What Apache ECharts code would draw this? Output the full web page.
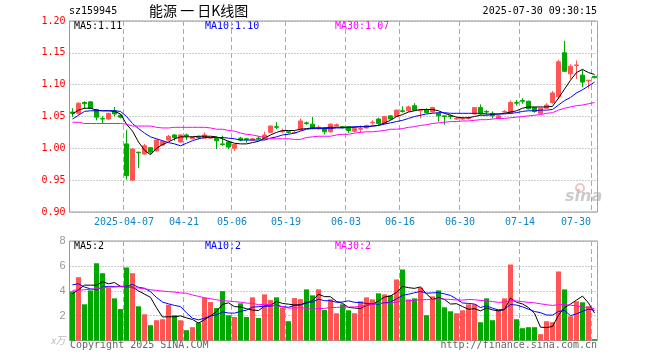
<!DOCTYPE html>
<html>
<head>
<meta charset="utf-8">
<script src="https://cdn.jsdelivr.net/npm/echarts@6/dist/echarts.min.js"></script>
<style>html,body{margin:0;padding:0;background:#fff}#c{width:660px;height:360px}</style>
</head>
<body>
<div id="c"></div>
<script>
const dates = ['2025-03-24','2025-03-25','2025-03-26','2025-03-27','2025-03-28','2025-03-31',
'2025-04-01','2025-04-02','2025-04-03','2025-04-07','2025-04-08','2025-04-09','2025-04-10','2025-04-11','2025-04-14','2025-04-15','2025-04-16','2025-04-17','2025-04-18','2025-04-21','2025-04-22','2025-04-23','2025-04-24','2025-04-25','2025-04-28','2025-04-29','2025-04-30',
'2025-05-06','2025-05-07','2025-05-08','2025-05-09','2025-05-12','2025-05-13','2025-05-14','2025-05-15','2025-05-16','2025-05-19','2025-05-20','2025-05-21','2025-05-22','2025-05-23','2025-05-26','2025-05-27','2025-05-28','2025-05-29','2025-05-30',
'2025-06-03','2025-06-04','2025-06-05','2025-06-06','2025-06-09','2025-06-10','2025-06-11','2025-06-12','2025-06-13','2025-06-16','2025-06-17','2025-06-18','2025-06-19','2025-06-20','2025-06-23','2025-06-24','2025-06-25','2025-06-26','2025-06-27','2025-06-30',
'2025-07-01','2025-07-02','2025-07-03','2025-07-04','2025-07-07','2025-07-08','2025-07-09','2025-07-10','2025-07-11','2025-07-14','2025-07-15','2025-07-16','2025-07-17','2025-07-18','2025-07-21','2025-07-22','2025-07-23','2025-07-24','2025-07-25','2025-07-28','2025-07-29','2025-07-30'];

const opens = [1.057,1.055,1.072,1.073,1.061,1.047,1.046,1.059,1.052,1.007,
0.950,0.994,0.991,1.001,0.996,1.005,1.013,1.021,1.010,1.021,
1.015,1.018,1.016,1.016,1.016,1.007,1.010,1.000,1.016,1.015,
1.013,1.016,1.015,1.025,1.034,1.026,1.026,1.024,1.029,1.040,
1.038,1.032,1.032,1.026,1.035,1.034,1.034,1.027,1.030,1.032,
1.040,1.046,1.039,1.051,1.050,1.059,1.059,1.067,1.059,1.061,
1.057,1.055,1.051,1.051,1.046,1.046,1.047,1.054,1.064,1.058,
1.055,1.047,1.057,1.055,1.072,1.075,1.074,1.064,1.055,1.063,
1.072,1.081,1.150,1.117,1.130,1.115,1.106,1.113];
const closes = [1.055,1.071,1.070,1.063,1.049,1.046,1.055,1.054,1.049,0.957,
0.999,0.993,1.004,0.994,1.013,1.011,1.019,1.017,1.021,1.019,
1.018,1.017,1.021,1.017,1.012,1.006,1.002,1.006,1.013,1.014,
1.015,1.015,1.021,1.035,1.033,1.027,1.025,1.025,1.043,1.039,
1.031,1.033,1.026,1.038,1.037,1.033,1.028,1.031,1.031,1.036,
1.041,1.039,1.050,1.046,1.060,1.058,1.065,1.060,1.060,1.056,
1.064,1.051,1.050,1.050,1.047,1.047,1.048,1.064,1.054,1.057,
1.051,1.051,1.058,1.072,1.071,1.074,1.062,1.058,1.063,1.068,
1.087,1.136,1.121,1.129,1.131,1.104,1.107,1.111];
const lows = [1.049,1.053,1.062,1.062,1.044,1.039,1.045,1.050,1.047,0.951,
0.949,0.969,0.990,0.991,0.995,1.004,1.012,1.012,1.009,1.013,
1.014,1.014,1.015,1.015,0.999,1.004,0.999,0.996,1.011,1.009,
1.012,1.013,1.014,1.024,1.030,1.024,1.023,1.023,1.028,1.037,
1.030,1.029,1.022,1.025,1.034,1.031,1.024,1.025,1.025,1.031,
1.037,1.036,1.038,1.045,1.049,1.056,1.057,1.059,1.047,1.055,
1.056,1.042,1.037,1.046,1.045,1.045,1.045,1.053,1.053,1.053,
1.047,1.046,1.056,1.054,1.067,1.070,1.061,1.056,1.054,1.062,
1.070,1.077,1.120,1.109,1.109,1.096,1.094,1.110];
const highs = [1.063,1.072,1.074,1.074,1.062,1.051,1.056,1.065,1.053,1.029,
1.000,0.994,1.007,1.001,1.014,1.012,1.021,1.022,1.022,1.023,
1.019,1.020,1.025,1.018,1.018,1.020,1.012,1.007,1.018,1.016,
1.016,1.019,1.026,1.036,1.041,1.031,1.027,1.027,1.047,1.042,
1.049,1.036,1.033,1.039,1.039,1.035,1.035,1.033,1.036,1.037,
1.044,1.048,1.051,1.052,1.061,1.066,1.067,1.071,1.062,1.063,
1.065,1.056,1.051,1.053,1.049,1.049,1.050,1.065,1.069,1.060,
1.058,1.052,1.060,1.075,1.076,1.079,1.075,1.065,1.064,1.071,
1.090,1.139,1.169,1.132,1.138,1.124,1.107,1.114];

const ma5 = [1.054,1.060,1.063,1.063,1.060,1.059,1.059,1.058,1.054,1.038,
1.027,1.010,0.997,0.990,1.000,1.006,1.010,1.015,1.018,1.018,
1.018,1.019,1.019,1.019,1.018,1.015,1.011,1.008,1.007,1.007,
1.009,1.011,1.016,1.021,1.025,1.028,1.028,1.028,1.030,1.031,
1.032,1.032,1.032,1.033,1.033,1.033,1.033,1.033,1.034,1.034,
1.035,1.036,1.040,1.044,1.050,1.053,1.057,1.059,1.061,1.061,
1.061,1.059,1.055,1.052,1.049,1.048,1.048,1.050,1.052,1.052,
1.053,1.054,1.055,1.057,1.059,1.063,1.065,1.065,1.065,1.065,
1.066,1.079,1.093,1.107,1.119,1.124,1.119,1.116];
const ma10 = [1.046,1.052,1.058,1.059,1.059,1.059,1.059,1.059,1.058,1.050,
1.039,1.031,1.024,1.018,1.015,1.012,1.009,1.007,1.004,1.008,
1.012,1.015,1.017,1.017,1.017,1.017,1.016,1.015,1.013,1.013,
1.013,1.013,1.013,1.016,1.018,1.021,1.022,1.024,1.027,1.030,
1.031,1.031,1.031,1.031,1.032,1.032,1.033,1.034,1.034,1.034,
1.035,1.036,1.038,1.040,1.042,1.044,1.047,1.050,1.052,1.054,
1.055,1.056,1.056,1.055,1.055,1.055,1.055,1.055,1.055,1.054,
1.054,1.054,1.054,1.055,1.056,1.058,1.059,1.059,1.060,1.060,
1.061,1.068,1.075,1.080,1.087,1.092,1.098,1.104];
const ma30 = [1.041,1.041,1.039,1.039,1.039,1.039,1.039,1.039,1.039,1.038,
1.035,1.035,1.035,1.035,1.033,1.032,1.032,1.033,1.033,1.033,
1.033,1.033,1.033,1.032,1.030,1.030,1.028,1.027,1.024,1.022,
1.021,1.019,1.017,1.015,1.015,1.015,1.015,1.014,1.014,1.017,
1.018,1.019,1.019,1.019,1.021,1.022,1.022,1.024,1.025,1.026,
1.026,1.027,1.028,1.030,1.030,1.031,1.033,1.034,1.036,1.037,
1.039,1.040,1.041,1.042,1.042,1.043,1.043,1.044,1.045,1.045,
1.046,1.047,1.047,1.048,1.049,1.050,1.051,1.052,1.053,1.055,
1.056,1.060,1.063,1.065,1.067,1.068,1.070,1.072];

const volumes = [3.95,5.09,2.91,4.03,6.21,5.41,4.24,3.39,2.53,5.87,
5.41,2.75,2.11,1.23,1.63,1.71,2.88,2.03,1.63,0.83,
1.07,1.44,3.44,3.09,2.61,3.97,2.03,1.89,2.99,1.89,
3.47,1.81,3.71,3.25,3.47,2.64,1.55,3.41,3.33,4.11,
3.63,4.11,2.45,3.31,2.19,2.91,2.43,2.19,3.15,3.47,
3.31,3.79,3.71,3.63,4.91,5.71,3.31,3.39,4.24,2.03,
3.55,4.03,2.67,2.35,2.19,2.43,2.91,2.91,1.47,3.39,
1.63,2.51,3.39,6.11,1.71,0.99,1.07,1.07,0.51,1.55,
1.47,5.55,4.11,1.95,3.15,3.07,2.75,0.11];
const volMa5 = [3.76,4.08,4.45,4.45,4.44,4.73,4.56,4.66,4.36,4.29,
4.29,3.99,3.73,3.47,2.63,1.89,1.91,1.90,1.98,1.82,
1.69,1.40,1.68,1.97,2.33,2.91,3.03,2.72,2.70,2.55,
2.45,2.41,2.77,2.83,3.14,2.98,2.92,2.86,2.88,3.01,
3.21,3.72,3.53,3.52,3.14,2.99,2.66,2.61,2.57,2.83,
2.91,3.18,3.49,3.58,3.87,4.35,4.25,4.19,4.31,3.74,
3.30,3.45,3.30,2.93,2.96,2.73,2.51,2.56,2.38,2.62,
2.46,2.38,2.48,3.41,3.07,2.94,2.65,2.19,1.07,1.04,
1.13,2.03,2.64,2.93,3.25,3.57,3.01,2.21];
const volMa10 = [4.48,4.56,4.30,4.15,4.08,4.30,4.35,4.35,4.35,4.36,
4.51,4.28,4.20,3.92,3.46,3.09,2.95,2.82,2.73,2.22,
1.79,1.66,1.79,1.98,2.07,2.30,2.21,2.20,2.34,2.44,
2.68,2.72,2.75,2.76,2.85,2.72,2.67,2.82,2.85,3.08,
3.09,3.32,3.20,3.20,3.07,3.10,3.19,3.07,3.05,2.98,
2.95,2.92,3.05,3.08,3.35,3.63,3.72,3.84,3.95,3.80,
3.83,3.85,3.75,3.62,3.35,3.02,2.98,2.93,2.65,2.79,
2.60,2.45,2.52,2.89,2.85,2.70,2.52,2.33,2.24,2.05,
2.04,2.34,2.41,2.00,2.14,2.35,2.52,2.42];
const volMa30 = [4.03,4.06,4.08,4.12,4.16,4.25,4.29,4.30,4.33,4.30,
4.24,4.22,4.16,4.08,4.03,3.97,3.93,3.89,3.83,3.80,
3.66,3.55,3.44,3.36,3.28,3.20,3.17,3.13,3.08,3.01,
2.99,2.88,2.91,2.88,2.79,2.70,2.61,2.61,2.64,2.58,
2.52,2.57,2.58,2.65,2.66,2.70,2.69,2.70,2.75,2.83,
2.91,2.99,3.00,3.01,3.09,3.15,3.19,3.24,3.28,3.29,
3.29,3.36,3.33,3.30,3.26,3.25,3.30,3.28,3.22,3.19,
3.13,3.07,3.10,3.20,3.18,3.12,3.07,3.03,2.95,2.88,
2.82,2.88,2.89,2.84,2.78,2.69,2.67,2.56];

const labelIdx = [9,19,27,36,46,55,65,75,87];
const tickLabels = ['2025-04-07','04-21','05-06','05-19','06-03','06-16','06-30','07-14','07-30'];
const priceTicks = [0.90,0.95,1.00,1.05,1.10,1.15,1.20];
const volTicks = [0,2,4,6,8];

const UP = '#ff5555', DOWN = '#00a800';
const MONO = '"DejaVu Sans Mono", monospace';

const kData = opens.map((o, i) => [o, closes[i], lows[i], highs[i]]);
const volData = volumes.map((v, i) => ({
  value: v,
  itemStyle: { color: closes[i] >= opens[i] ? UP : DOWN }
}));
const last = (a) => a[a.length - 1];
const trunc2 = (x) => (Math.floor(x * 100 + 1e-6) / 100).toFixed(2);
const trunc0 = (x) => String(Math.floor(x));

const chart = echarts.init(document.getElementById('c'), null, { renderer: 'canvas' });
const gridL = 69.5, gridW = 528;
const isLbl = (i) => labelIdx.indexOf(i) >= 0;
const vSplit = { show: true, interval: (i) => isLbl(i), lineStyle: { color: '#aaa', type: [5, 3], width: 1 } };

const option = {
  animation: false,
  backgroundColor: '#fff',
  grid: [
    { left: gridL, top: 21, width: gridW, height: 191, show: true, borderColor: '#999', borderWidth: 1, backgroundColor: 'transparent' },
    { left: gridL, top: 241, width: gridW, height: 99.5, show: true, borderColor: '#999', borderWidth: 1, backgroundColor: 'transparent' }
  ],
  xAxis: [
    {
      type: 'category', gridIndex: 0, data: dates, boundaryGap: true,
      axisLine: { show: false }, axisTick: { show: false },
      splitLine: vSplit,
      axisLabel: {
        interval: (i) => isLbl(i),
        margin: 5,
        formatter: (v, i) => {
          const j = labelIdx.indexOf(i);
          if (j < 0) return '';
          return (j === labelIdx.length - 1 ? '{e|' : '{n|') + tickLabels[j] + '}';
        },
        rich: {
          n: { color: '#0f86c8', fontSize: 10, fontFamily: MONO, padding: [0, 5, 0, 0] },
          e: { color: '#0f86c8', fontSize: 10, fontFamily: MONO, padding: [0, 37, 0, 0] }
        }
      }
    },
    {
      type: 'category', gridIndex: 1, data: dates, boundaryGap: true,
      axisLine: { show: false }, axisTick: { show: false }, axisLabel: { show: false },
      splitLine: vSplit
    }
  ],
  yAxis: [
    {
      type: 'value', gridIndex: 0, min: priceTicks[0], max: priceTicks[priceTicks.length - 1], interval: 0.05,
      axisLine: { show: false }, axisTick: { show: false },
      axisLabel: { color: '#ff0000', fontSize: 10, fontFamily: MONO, margin: 4, formatter: (v) => v.toFixed(2) },
      splitLine: { show: true, lineStyle: { color: '#999', type: [1, 2], width: 1 } }
    },
    {
      type: 'value', gridIndex: 1, min: volTicks[0], max: volTicks[volTicks.length - 1], interval: 2,
      axisLine: { show: false }, axisTick: { show: false },
      axisLabel: {
        color: '#999', fontSize: 11, fontFamily: '"Liberation Sans", sans-serif', margin: 4,
        formatter: (v) => v === 0 ? '{u|x万}' : String(v),
        rich: { u: { color: '#bbb', fontSize: 10, fontStyle: 'italic', fontFamily: '"Noto Sans CJK SC", sans-serif' } }
      },
      splitLine: { show: true, lineStyle: { color: '#999', type: [1, 2], width: 1 } }
    }
  ],
  series: [
    {
      type: 'candlestick', xAxisIndex: 0, yAxisIndex: 0, data: kData, barWidth: 4,
      itemStyle: { color: UP, color0: DOWN, borderColor: UP, borderColor0: DOWN, borderWidth: 1 }
    },
    { type: 'line', xAxisIndex: 0, yAxisIndex: 0, data: ma5, symbol: 'none', z: 5, lineStyle: { color: '#000', width: 1 } },
    { type: 'line', xAxisIndex: 0, yAxisIndex: 0, data: ma10, symbol: 'none', z: 5, lineStyle: { color: '#0000ff', width: 1 } },
    { type: 'line', xAxisIndex: 0, yAxisIndex: 0, data: ma30, symbol: 'none', z: 5, lineStyle: { color: '#ff00ff', width: 1 } },
    { type: 'bar', xAxisIndex: 1, yAxisIndex: 1, data: volData, barWidth: 5 },
    { type: 'line', xAxisIndex: 1, yAxisIndex: 1, data: volMa5, symbol: 'none', z: 5, lineStyle: { color: '#000', width: 1 } },
    { type: 'line', xAxisIndex: 1, yAxisIndex: 1, data: volMa10, symbol: 'none', z: 5, lineStyle: { color: '#0000ff', width: 1 } },
    { type: 'line', xAxisIndex: 1, yAxisIndex: 1, data: volMa30, symbol: 'none', z: 5, lineStyle: { color: '#ff00ff', width: 1 } }
  ],
  graphic: [
    { type: 'text', left: 69, top: 6, style: { text: 'sz159945', fill: '#000', font: '10px ' + MONO } },
    { type: 'text', left: 149, top: 4, style: { text: '能源 一 日K线图', fill: '#000', font: '14px "Noto Sans CJK SC"' } },
    { type: 'text', right: 63, top: 6, style: { text: '2025-07-30 09:30:15', fill: '#000', font: '10px ' + MONO } },
    { type: 'text', left: 74, top: 21, style: { text: 'MA5:' + trunc2(last(ma5)), fill: '#000', font: '10px ' + MONO } },
    { type: 'text', left: 205, top: 21, style: { text: 'MA10:' + trunc2(last(ma10)), fill: '#0000ff', font: '10px ' + MONO } },
    { type: 'text', left: 335, top: 21, style: { text: 'MA30:' + trunc2(last(ma30)), fill: '#ff00ff', font: '10px ' + MONO } },
    { type: 'text', left: 74, top: 241, style: { text: 'MA5:' + trunc0(last(volMa5)), fill: '#000', font: '10px ' + MONO } },
    { type: 'text', left: 205, top: 241, style: { text: 'MA10:' + trunc0(last(volMa10)), fill: '#0000ff', font: '10px ' + MONO } },
    { type: 'text', left: 335, top: 241, style: { text: 'MA30:' + trunc0(last(volMa30)), fill: '#ff00ff', font: '10px ' + MONO } },
    { type: 'text', left: 70, top: 340, style: { text: 'Copyright 2025 SINA.COM', fill: '#666', font: '10px ' + MONO } },
    { type: 'text', right: 63, top: 340, style: { text: 'http://finance.sina.com.cn', fill: '#666', font: '10px ' + MONO } },
    { type: 'circle', shape: { cx: 580, cy: 188, r: 4 }, style: { fill: 'none', stroke: 'rgba(230,120,120,0.45)', lineWidth: 2 } },
    { type: 'text', left: 565, top: 189, style: { text: 'sina', fill: 'rgba(160,160,160,0.55)', font: 'italic bold 16px "DejaVu Sans"' } }
  ]
};
chart.setOption(option);
</script>
</body>
</html>
